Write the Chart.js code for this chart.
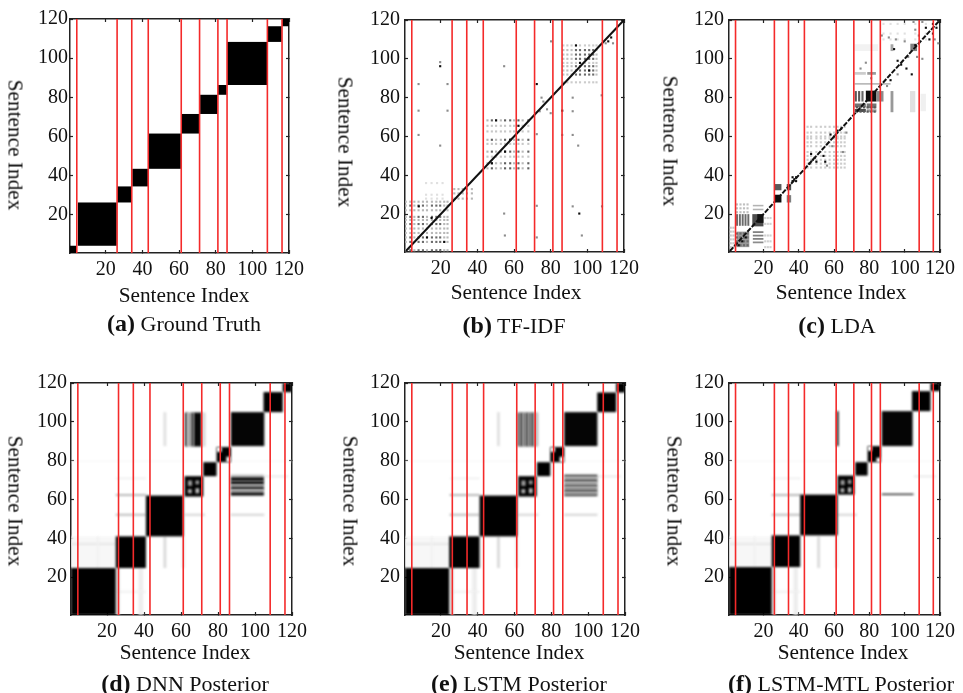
<!DOCTYPE html>
<html>
<head>
<meta charset="utf-8">
<title>Sentence similarity matrices</title>
<script src="https://cdn.jsdelivr.net/npm/chart.js@4"></script>
<style>
  body { margin: 0; background: #fff; width: 963px; height: 693px; position: relative; overflow: hidden; }
  canvas { position: absolute; }
  .label { position: absolute; font-family: "Liberation Serif", serif; color: #111; white-space: nowrap; transform: translate(-50%, -50%); }
  .axis-x, .axis-y { font-size: 21.3px; }
  .axis-y { transform: translate(-50%, -50%) rotate(90deg); }
  .caption { font-size: 22px; }
  .caption b { font-size: 24px; }
</style>
</head>
<body>
<script>
const tickValues = [20, 40, 60, 80, 100, 120];
const boundaries = [4, 26, 34, 43, 61, 71, 81, 86, 108, 116];
const diagonalEnds = [1, 120];

// [x0, x1, y0, y1, shade] shade 0 is black and 1 is white
const truthBlocks = [
  [0.5, 4.2, 0.5, 4.2, 0], [4.8, 26, 4.2, 26.3, 0], [26.3, 34, 26.3, 34.5, 0], [34.5, 43, 34.5, 43.5, 0],
  [43.5, 61, 43.5, 61.5, 0], [61.5, 71, 61.5, 71.5, 0], [71.5, 81, 71.5, 81.3, 0], [81.3, 86, 81.3, 86.3, 0],
  [86.3, 108, 86.3, 108.3, 0], [108.3, 116, 108.3, 116.3, 0], [116.3, 120, 116.3, 120, 0]
];

const posteriorFaint = [
  [0.5, 24.7, 24.7, 41, 0.97], [0.5, 24.7, 36.6, 37.6, 0.9], [14.5, 15.5, 24.7, 41, 0.94],
  [24.7, 41, 61.8, 62.8, 0.72], [24.7, 41, 51.5, 52.7, 0.78], [61.9, 73, 51.5, 52.7, 0.86],
  [50.5, 52, 24.7, 41, 0.85], [60.5, 62, 24.7, 41, 0.9], [24.7, 41, 70.5, 71.2, 0.92],
  [37, 39.5, 0.5, 24.7, 0.93], [25, 41, 12, 13, 0.94], [0.5, 120, 79.5, 80, 0.97],
  [105, 118, 71.5, 72.3, 0.9], [25.2, 26.8, 0.5, 24.7, 0.85]
];

const dnnBlocks = [
  [50.5, 52, 87.5, 105, 0.88], [87, 105, 51.5, 52.7, 0.85],
  [0.5, 24.7, 0.5, 24.7, 0], [24.7, 41, 24.7, 41, 0], [41, 61.3, 41, 62, 0],
  [62.1, 63.4, 87.3, 104.8, 0.15], [63.4, 65.2, 87.3, 104.8, 0.65], [65.2, 67, 87.3, 104.8, 0.3],
  [67, 71.2, 87.3, 104.8, 0.03], [71.2, 73.3, 87.3, 104.8, 0.85],
  [86.9, 104.8, 71.6, 72.8, 0.75], [86.9, 104.8, 69.4, 71.6, 0.1], [86.9, 104.8, 67.7, 69.4, 0],
  [86.9, 104.8, 66.5, 67.7, 0.5], [86.9, 104.8, 65.1, 66.5, 0.05], [86.9, 104.8, 63.7, 65.1, 0.6],
  [86.9, 104.8, 62, 63.7, 0.05],
  [61.9, 72, 61.5, 72, 0], [63.7, 66, 67, 69.8, 0.6], [67.8, 69.8, 63.2, 65.8, 0.75],
  [67.8, 69.8, 67.8, 69.8, 0.6], [63.7, 65.8, 63.2, 65.3, 0.7],
  [72, 79.2, 72, 79.2, 0], [79.2, 87, 79.2, 87, 0], [79.2, 82, 84.5, 87, 1], [84.5, 87, 79.2, 82, 1],
  [87, 105, 87.5, 105, 0.02], [104.6, 115, 105, 115.3, 0], [115, 120, 115.3, 120, 0]
];

const lstmBlocks = [
  [50.5, 52, 87.5, 105, 0.88], [87, 105, 51.5, 52.7, 0.85],
  [0.5, 24.5, 0.5, 24.7, 0], [24.5, 41, 24.7, 41, 0], [41, 61.5, 41, 62, 0],
  [61.5, 63, 87.3, 104.8, 0.4], [63, 64.5, 87.3, 104.8, 0.25], [64.5, 66, 87.3, 104.8, 0.45],
  [66, 67.5, 87.3, 104.8, 0.25], [67.5, 69, 87.3, 104.8, 0.4], [69, 70.5, 87.3, 104.8, 0.25],
  [70.5, 72, 87.3, 104.8, 0.55], [72, 73, 87.3, 104.8, 0.75],
  [87, 105, 71.5, 72.8, 0.3], [87, 105, 70.3, 71.5, 0.6], [87, 105, 69, 70.3, 0.25],
  [87, 105, 67.7, 69, 0.6], [87, 105, 66.4, 67.7, 0.3], [87, 105, 65.1, 66.4, 0.55],
  [87, 105, 63.8, 65.1, 0.25], [87, 105, 62.7, 63.8, 0.55], [87, 105, 61.7, 62.7, 0.25],
  [62, 72, 61.5, 72, 0], [63.7, 66, 67, 69.8, 0.6], [67.8, 69.8, 63.2, 65.8, 0.75],
  [67.8, 69.8, 67.8, 69.8, 0.6], [63.7, 65.8, 63.2, 65.3, 0.7],
  [72.2, 79.4, 72, 79.2, 0], [79.4, 87, 79.2, 87, 0], [79.4, 82, 84.5, 87, 1], [84.5, 87, 79.2, 82, 1],
  [87, 105, 87.5, 105, 0.02], [104.9, 115.2, 105, 115.1, 0], [115.2, 120, 115.1, 120, 0]
];

const mtlBlocks = [
  [0.5, 24.7, 0.5, 25.2, 0], [24.7, 40.8, 25.2, 41.5, 0], [40.8, 62, 41.5, 62.5, 0],
  [61.4, 62.6, 87.5, 105.5, 0.05], [87, 105, 62.3, 63, 0.1],
  [62, 71.5, 62.5, 72.3, 0], [63.7, 66, 67.4, 70, 0.6], [67.8, 69.8, 63.6, 66.2, 0.75],
  [67.8, 69.8, 68, 70.2, 0.6], [63.7, 65.8, 63.6, 65.8, 0.7],
  [72, 79, 72.3, 79.2, 0], [79, 86.5, 79.2, 87.5, 0], [79, 81.5, 85, 87.5, 1], [84, 86.5, 79.2, 81.5, 1],
  [87, 104.5, 87.5, 105.5, 0.02], [104.1, 114.6, 105.5, 115.8, 0], [114.6, 120, 115.8, 120, 0]
];

const ldaBlocks = [
  [4.8, 12, 3, 11, 0.6], [14, 20, 10.3, 11.2, 0.5], [14, 20, 8.5, 9.4, 0.5], [14, 20, 6.8, 7.7, 0.5], [14, 20, 5, 5.9, 0.55],
  [4.5, 5.6, 14, 20, 0.42], [6.1, 7.2, 14, 20, 0.42], [7.7, 8.8, 14, 20, 0.42], [9.3, 10.4, 14, 20, 0.42], [10.9, 12, 14, 20, 0.42],
  [13.7, 20, 13.7, 20, 0.3], [16.5, 20, 15.5, 20, 0.08], [14, 20, 24, 24.8, 0.7], [14, 20, 22, 22.8, 0.7],
  [26.5, 30.2, 26, 30, 0.05], [26.5, 30.2, 32.3, 35.5, 0.35], [33.2, 35.7, 32.3, 35.5, 0.3], [33.2, 35.7, 26, 29.8, 0.5],
  [71.7, 72.9, 78, 83.4, 0.35], [73.6, 74.8, 78, 83.4, 0.35], [75.5, 76.7, 78, 83.4, 0.4],
  [78, 84, 78, 83.6, 0.05], [84, 88, 78, 83.4, 0.55],
  [71.7, 78, 75, 77, 0.45], [71.7, 78, 72.6, 74.2, 0.3], [78.5, 84, 74.5, 77, 0.45], [78.5, 84, 72.5, 74, 0.6],
  [92, 93.6, 72.5, 83.4, 0.6], [103, 106, 72.5, 83.4, 0.88], [109, 112, 73, 82, 0.94],
  [71.7, 78, 91.8, 93.2, 0.8], [78.8, 83.7, 91.8, 93.2, 0.6], [71.7, 92, 86.7, 87.5, 0.7],
  [71.7, 85, 104, 107.5, 0.95], [92, 93.6, 104, 107.5, 0.65], [103.2, 107, 104, 107.8, 0.5]
];

const tfidfClusters = [
  { cols: [0.9, 3.4, 5.6, 7.9, 10.3, 12.5, 15.2, 17.6, 19.7, 21.9, 23.7], rows: [26.4, 22, 17, 12.6, 10.3], shade: 0.72 },
  { cols: [0.9, 5.6, 12.5, 21.9, 23.7], rows: [24.4, 18.6, 14.9, 8, 5.7, 1.4], shade: 0.72 },
  { cols: [3.4, 7.9, 10.3, 15.2, 17.6, 19.7], rows: [24.4, 18.6, 14.9, 8, 5.7, 1.4], shade: 0.42 },
  { cols: [45.5, 47.9, 50.2, 52.8, 55.1, 57.9, 60, 62.4, 64.7, 67.8], rows: [65.5, 62.6, 56.2, 49.6], shade: 0.78 },
  { cols: [45.5, 50.2, 52.8, 60, 64.7], rows: [68.3, 58.3, 52.2, 46.2, 43.6], shade: 0.72 },
  { cols: [47.9, 55.1, 57.9, 62.4, 67.8], rows: [68.3, 58.3, 52.2, 46.2, 43.6], shade: 0.38 },
  { cols: [86.9, 89.1, 91.4, 93.8, 96, 98.7, 101, 103.2, 105], rows: [106.9, 97.9, 87.9], shade: 0.8 },
  { cols: [93.8, 96, 98.7, 101, 103.2], rows: [104.5, 102.2, 100, 96.2, 94, 91.9], shade: 0.42 },
  { cols: [86.9, 89.1, 91.4, 105], rows: [104.5, 102.2, 100, 96.2, 94, 91.9], shade: 0.75 },
  { cols: [27.4, 29.7, 32, 34.3, 37], rows: [32.9, 30.7, 28], shade: 0.72 },
  { cols: [12, 15, 18, 21], rows: [36, 30, 28], shade: 0.88 }
];
const tfidfDarkDots = [
  [8, 24], [19.7, 96.2], [72.4, 87], [86.3, 73.3], [95.6, 20.3], [15, 18], [12.5, 8], [21.9, 5.7],
  [47.9, 46.2], [50.2, 68.3], [55.1, 52.2], [57.9, 58.3], [62.4, 65.5], [93.8, 106.9], [96, 97.9], [101, 94], [111.4, 109], [113, 111]
];
const tfidfGreyDots = [
  [19.7, 98.3], [54.6, 96.2], [7.9, 73.3], [23.7, 73.3], [54.6, 20.3], [19.7, 55.3], [95, 55.3], [107.8, 81.2],
  [72.4, 61.2], [72.4, 24.3], [7.9, 87], [23.7, 87], [7.9, 60.8], [86.3, 60.8], [92, 80], [92, 73], [92, 60.8],
  [80.2, 109], [72.4, 8], [92, 24], [108, 24], [55, 9], [97, 9], [75, 80], [76, 78], [78, 74], [80, 72], [74, 73], [110, 108], [114, 108]
];

const ldaClusters = [
  { cols: [5, 7, 9, 11], rows: [4, 6, 8, 10], shade: 0.42 },
  { cols: [1.5, 3], rows: [3, 5, 7, 9, 11, 13], shade: 0.78 },
  { cols: [5, 7, 9, 11], rows: [21, 23, 25], shade: 0.75 },
  { cols: [21, 22.5, 24], rows: [3, 6, 9, 15, 18], shade: 0.82 },
  { cols: [45, 47, 50, 52.5, 55, 57.5, 60, 62, 64, 66], rows: [44, 46, 48, 50, 52, 55, 57, 59, 60, 62, 65], shade: 0.8 },
  { cols: [73, 75, 77, 79, 81, 83], rows: [75, 72.8], shade: 0.35 },
  { cols: [88, 92, 96, 100, 106, 112], rows: [110, 113, 118], shade: 0.88 }
];
const ldaDarkDots = [
  [8, 6], [10, 8], [6, 4], [36.5, 37], [37.5, 38], [38.5, 39], [38.5, 37], [36.5, 39], [46, 46], [48, 48], [47, 51],
  [49, 49], [50, 47], [54, 50], [55, 47], [60, 60], [58, 61], [62, 63], [64, 64], [92, 89], [94, 105], [98, 97],
  [101, 95], [96, 99], [104, 92], [106, 107], [112, 116], [116, 113], [114, 110], [118, 116], [116, 118]
];
const ldaGreyDots = [
  [56, 45], [59, 55], [65, 52], [67, 62], [100, 109], [91, 111], [95, 110], [102, 101], [107, 101], [110, 100],
  [108, 112], [106, 115], [117, 110], [119, 108], [105, 119], [110, 119], [87, 112], [75, 95], [78, 98], [81, 90], [90, 86], [96, 92]
];

const panels = [
  { name: "a", title: "Ground Truth", plot: [70, 289, 19, 253], origin: [0, 0], size: [330, 310], yPad: 5, axisX: [184, 295], axisY: [15, 145], caption: [184, 323], blocks: [truthBlocks], blur: 0.4, diagonal: false },
  { name: "b", title: "TF-IDF", plot: [405, 624, 20, 252], origin: [330, 0], size: [320, 310], yPad: 8, axisX: [516, 292], axisY: [345, 142], caption: [514, 325], blocks: [], blur: 0.5, diagonal: true, clusters: tfidfClusters, dark: tfidfDarkDots, grey: tfidfGreyDots },
  { name: "c", title: "LDA", plot: [729, 950, 20, 252], origin: [650, 0], size: [313, 310], yPad: 8, axisX: [841, 292], axisY: [670, 141], caption: [837, 325], blocks: [ldaBlocks], blur: 0.6, diagonal: true, dashed: true, clusters: ldaClusters, dark: ldaDarkDots, grey: ldaGreyDots },
  { name: "d", title: "DNN Posterior", plot: [71, 292, 383, 615], origin: [0, 350], size: [330, 300], yPad: 7, axisX: [185, 652], axisY: [15, 501], caption: [185, 683], blocks: [posteriorFaint, dnnBlocks], blur: 1 },
  { name: "e", title: "LSTM Posterior", plot: [405, 625, 383, 615], origin: [330, 350], size: [320, 300], yPad: 8, axisX: [519, 652], axisY: [350, 501], caption: [519, 683], blocks: [posteriorFaint, lstmBlocks], blur: 1 },
  { name: "f", title: "LSTM-MTL Posterior", plot: [729, 950, 383, 615], origin: [650, 350], size: [313, 300], yPad: 8, axisX: [843, 652], axisY: [674, 501], caption: [841, 683], blocks: [posteriorFaint, mtlBlocks], blur: 1 }
];

const AXIS_MIN = 0.5;
const AXIS_MAX = 120;
const gray = (s) => { const v = Math.round(s * 255); return "rgb(" + v + "," + v + "," + v + ")"; };

// draws the image cells under the datasets, through the chart scales
const cellPlugin = {
  id: "cells",
  beforeDatasetsDraw(chart, args, opts) {
    const { ctx, chartArea, scales } = chart;
    ctx.save();
    ctx.beginPath();
    ctx.rect(chartArea.left, chartArea.top, chartArea.width, chartArea.height);
    ctx.clip();
    ctx.filter = "blur(" + opts.blur + "px)";
    opts.blocks.forEach((list) => {
      list.forEach(([x0, x1, y0, y1, shade]) => {
        const left = scales.x.getPixelForValue(x0);
        const top = scales.y.getPixelForValue(y1);
        ctx.fillStyle = gray(shade);
        ctx.fillRect(left, top, scales.x.getPixelForValue(x1) - left, scales.y.getPixelForValue(y0) - top);
      });
    });
    ctx.restore();
  },
  beforeDatasetDraw(chart, args, opts) {
    if (args.meta._dataset.blurred) chart.ctx.filter = "blur(" + opts.blur + "px)";
  },
  afterDatasetDraw(chart) {
    chart.ctx.filter = "none";
  }
};

function dotDataset(points, shade) {
  return {
    data: points.map(([x, y]) => ({ x, y })),
    pointStyle: "rect",
    pointRadius: 1.5,
    pointBorderWidth: 0,
    backgroundColor: gray(shade),
    blurred: true
  };
}

function cross(cluster) {
  return cluster.cols.flatMap((x) => cluster.rows.map((y) => [x, y]));
}

function buildDatasets(panel) {
  const sets = boundaries.map((v) => ({
    data: [{ x: v + 0.2, y: AXIS_MIN }, { x: v + 0.2, y: AXIS_MAX }],
    showLine: true,
    borderColor: "#f42a2a",
    borderWidth: 1.6,
    pointRadius: 0
  }));
  if (panel.diagonal) {
    sets.push({
      data: diagonalEnds.map((v) => ({ x: v, y: v })),
      showLine: true,
      borderColor: "#111",
      borderWidth: 2,
      borderDash: panel.dashed ? [5, 1.5] : [],
      pointRadius: 0,
      blurred: true
    });
  }
  if (panel.dark) sets.push(dotDataset(panel.dark, 0.05));
  if (panel.grey) sets.push(dotDataset(panel.grey, 0.55));
  (panel.clusters || []).forEach((c) => sets.push(dotDataset(cross(c), c.shade)));
  return sets;
}

function axis(position, size, showLabels, pad) {
  return {
    type: "linear",
    position,
    min: AXIS_MIN,
    max: AXIS_MAX,
    afterBuildTicks: (scale) => { scale.ticks = tickValues.map((value) => ({ value })); },
    afterFit: (scale) => {
      if (scale.isHorizontal()) scale.height = size; else scale.width = size;
    },
    border: { color: "#222", width: 1.5 },
    grid: { drawOnChartArea: false, tickLength: -3, color: "#222", tickWidth: 1.2 },
    ticks: {
      display: showLabels,
      autoSkip: false,
      maxRotation: 0,
      padding: pad,
      color: "#111",
      font: { family: "'Liberation Serif', serif", size: 20 }
    }
  };
}

function addLabel(cls, pos, html) {
  const div = document.createElement("div");
  div.className = "label " + cls;
  div.style.left = pos[0] + "px";
  div.style.top = pos[1] + "px";
  div.innerHTML = html;
  document.body.appendChild(div);
}

panels.forEach((panel) => {
  const [left, right, top, bottom] = panel.plot;
  const [ox, oy] = panel.origin;
  const [w, h] = panel.size;
  const canvas = document.createElement("canvas");
  canvas.width = w;
  canvas.height = h;
  canvas.style.left = ox + "px";
  canvas.style.top = oy + "px";
  document.body.appendChild(canvas);

  new Chart(canvas.getContext("2d"), {
    type: "scatter",
    data: { datasets: buildDatasets(panel) },
    plugins: [cellPlugin],
    options: {
      responsive: false,
      animation: false,
      layout: { autoPadding: false, padding: { left: 0, right: ox + w - right, top: top - oy, bottom: 0 } },
      plugins: {
        legend: { display: false },
        tooltip: { enabled: false },
        cells: { blocks: panel.blocks, blur: panel.blur }
      },
      scales: {
        x: axis("bottom", oy + h - bottom, true, 8),
        y: axis("left", left - ox, true, panel.yPad),
        x2: axis("top", 0, false, 0),
        y2: axis("right", 0, false, 0)
      }
    }
  });

  addLabel("axis-x", panel.axisX, "Sentence Index");
  addLabel("axis-y", panel.axisY, "Sentence Index");
  addLabel("caption", panel.caption, "<b>(" + panel.name + ")</b> " + panel.title);
});
</script>
</body>
</html>
